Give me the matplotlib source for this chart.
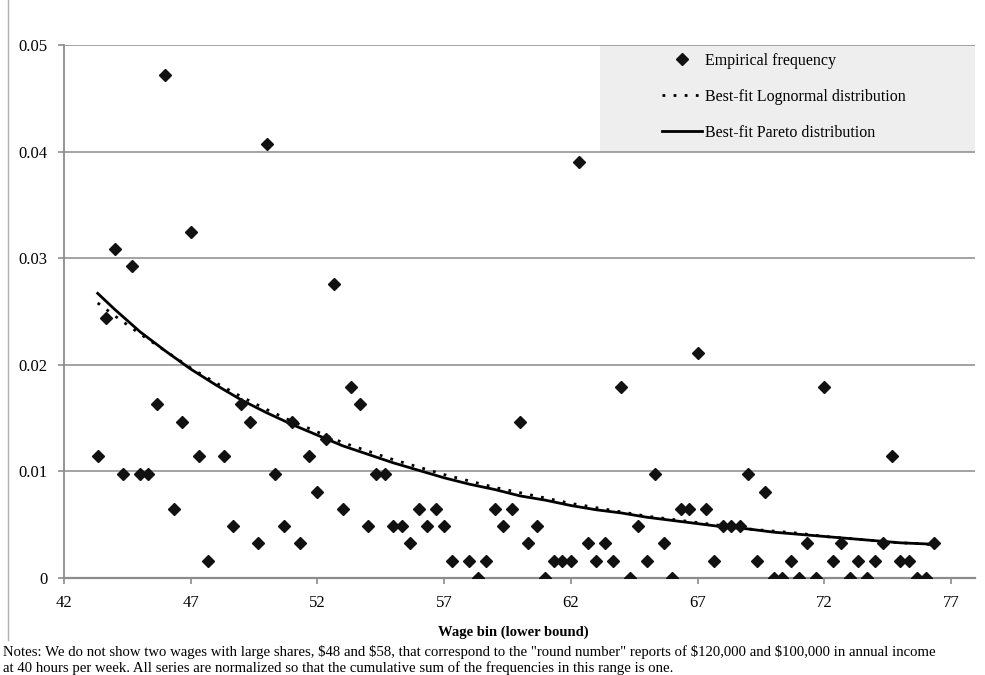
import matplotlib
matplotlib.use("Agg")
import matplotlib.pyplot as plt
from matplotlib.lines import Line2D
from matplotlib.patches import Rectangle

plt.rcParams['font.family'] = ['Liberation Serif', 'DejaVu Serif']

# empirical frequencies by wage bin (lower bound), $48 and $58 bins left out
wage = [43.33, 43.67, 44.0, 44.33, 44.67, 45.0, 45.33, 45.67, 46.0, 46.33, 46.67, 47.0, 47.33, 47.67,
        48.33, 48.67, 49.0, 49.33, 49.67, 50.0, 50.33, 50.67, 51.0, 51.33, 51.67, 52.0, 52.33, 52.67,
        53.0, 53.33, 53.67, 54.0, 54.33, 54.67, 55.0, 55.33, 55.67, 56.0, 56.33, 56.67, 57.0, 57.33,
        58.0, 58.33, 58.67, 59.0, 59.33, 59.67, 60.0, 60.33, 60.67, 61.0, 61.33, 61.67, 62.0, 62.33,
        62.67, 63.0, 63.33, 63.67, 64.0, 64.33, 64.67, 65.0, 65.33, 65.67, 66.0, 66.33, 66.67, 67.0,
        67.33, 67.67, 68.0, 68.33, 68.67, 69.0, 69.33, 69.67, 70.0, 70.33, 70.67, 71.0, 71.33, 71.67,
        72.0, 72.33, 72.67, 73.0, 73.33, 73.67, 74.0, 74.33, 74.67, 75.0, 75.33, 75.67, 76.0, 76.33]
freq = [0.0114, 0.0244, 0.0309, 0.0098, 0.0293, 0.0098, 0.0098, 0.0163, 0.0472, 0.0065, 0.0146, 0.0325, 0.0114, 0.0016,
        0.0114, 0.0049, 0.0163, 0.0146, 0.0033, 0.0407, 0.0098, 0.0049, 0.0146, 0.0033, 0.0114, 0.0081, 0.0130, 0.0276,
        0.0065, 0.0179, 0.0163, 0.0049, 0.0098, 0.0098, 0.0049, 0.0049, 0.0033, 0.0065, 0.0049, 0.0065, 0.0049, 0.0016,
        0.0016, 0.0, 0.0016, 0.0065, 0.0049, 0.0065, 0.0146, 0.0033, 0.0049, 0.0, 0.0016, 0.0016, 0.0016, 0.0390,
        0.0033, 0.0016, 0.0033, 0.0016, 0.0179, 0.0, 0.0049, 0.0016, 0.0098, 0.0033, 0.0, 0.0065, 0.0065, 0.0211,
        0.0065, 0.0016, 0.0049, 0.0049, 0.0049, 0.0098, 0.0016, 0.0081, 0.0, 0.0, 0.0016, 0.0, 0.0033, 0.0,
        0.0179, 0.0016, 0.0033, 0.0, 0.0016, 0.0, 0.0016, 0.0033, 0.0114, 0.0016, 0.0016, 0.0, 0.0, 0.0033]

# fitted curves
fit_x = [43.33, 44, 45, 46, 47, 48, 49, 50, 51, 52, 53, 54, 55, 56, 57, 58, 59, 60,
         61, 62, 63, 64, 65, 66, 67, 68, 69, 70, 71, 72, 73, 74, 75, 76, 76.33]
pareto = [0.0267, 0.0252, 0.0231, 0.0213, 0.0196, 0.0181, 0.0167, 0.0155, 0.0144, 0.0134, 0.0124,
          0.0116, 0.0108, 0.0101, 0.0094, 0.0088, 0.0083, 0.0077, 0.0073, 0.0068, 0.0064, 0.0061,
          0.0057, 0.0054, 0.0051, 0.0048, 0.0046, 0.0043, 0.0041, 0.0039, 0.0037, 0.0035, 0.0033,
          0.0032, 0.0031]
lognormal = [0.0258, 0.0246, 0.0229, 0.0213, 0.0197, 0.0183, 0.0170, 0.0158, 0.0147, 0.0137, 0.0127,
             0.0119, 0.0111, 0.0104, 0.0097, 0.0091, 0.0085, 0.0080, 0.0075, 0.0070, 0.0066, 0.0062,
             0.0058, 0.0055, 0.0052, 0.0049, 0.0046, 0.0044, 0.0042, 0.0039, 0.0037, 0.0035, 0.0033,
             0.0032, 0.0031]

xticks = [42, 47, 52, 57, 62, 67, 72, 77]
yticks = [0, 0.01, 0.02, 0.03, 0.04, 0.05]
ylabels = ['0', '0.01', '0.02', '0.03', '0.04', '0.05']

W, H = 985, 675
fig = plt.figure(figsize=(W / 100, H / 100), dpi=100)
ax = fig.add_axes([64 / W, 1 - 578 / H, (975 - 64) / W, (578 - 45) / H])

ax.set_xlim(42, 77.95)
ax.set_ylim(0, 0.05)

# legend background band
ax.add_patch(Rectangle((63.15, 0.04), 77.95 - 63.15, 0.01, facecolor='#eeeeee',
                       edgecolor='none', zorder=0.5))

for y in yticks[1:]:
    ax.axhline(y, color='#9c9c9c', lw=1.3, zorder=1)

ax.plot(fit_x, pareto, color='black', lw=2, zorder=3)
ax.plot(fit_x, lognormal, color='black', lw=2, linestyle=(0, (1, 3)), zorder=3.5)
ax.plot(wage, freq, linestyle='none', marker='D', ms=5.8, color='#111111', zorder=4)

for s in ['top', 'right']:
    ax.spines[s].set_visible(False)
ax.spines['left'].set_color('#8c8c8c')
ax.spines['bottom'].set_color('#8c8c8c')
ax.spines['left'].set_linewidth(1.3)
ax.spines['bottom'].set_linewidth(1.6)

ax.set_xticks(xticks)
ax.set_xticklabels([str(t) for t in xticks])
ax.set_yticks(yticks)
ax.set_yticklabels(ylabels)
ax.tick_params(axis='both', colors='#8c8c8c', labelcolor='black', labelsize=12,
               length=4, width=1.2, direction='out')
ax.tick_params(axis='x', pad=8)
ax.tick_params(axis='y', pad=8)

handles = [
    Line2D([], [], linestyle='none', marker='D', ms=5.8, color='#111111'),
    Line2D([], [], color='black', lw=2, linestyle=(0, (1, 3))),
    Line2D([], [], color='black', lw=2),
]
labels = ['Empirical frequency', 'Best-fit Lognormal distribution', 'Best-fit Pareto distribution']
fig.legend(handles, labels, loc='upper left', bbox_to_anchor=(662 / W, 1 - 53 / H),
           frameon=False, fontsize=11.5, handlelength=2.5, handletextpad=0.2,
           labelspacing=1.25, borderpad=0, borderaxespad=0, numpoints=1)

fig.text(513 / W, 1 - 632 / H, 'Wage bin (lower bound)', ha='center', va='center',
         fontsize=10.5, fontweight='bold')
fig.text(3 / W, 1 - 652 / H,
         r'Notes: We do not show two wages with large shares, \$48 and \$58, that correspond to the "round number" '
         r'reports of \$120,000 and \$100,000 in annual income',
         ha='left', va='center', fontsize=10.6)
fig.text(3 / W, 1 - 668 / H,
         'at 40 hours per week. All series are normalized so that the cumulative sum of the frequencies in this range is one.',
         ha='left', va='center', fontsize=10.6)

# thin frame line on the left edge
fig.add_artist(Line2D([8 / W, 8 / W], [1 - 640 / H, 1], color='#b0b0b0', lw=1))

fig.savefig('out.png', dpi=100, facecolor='white')
